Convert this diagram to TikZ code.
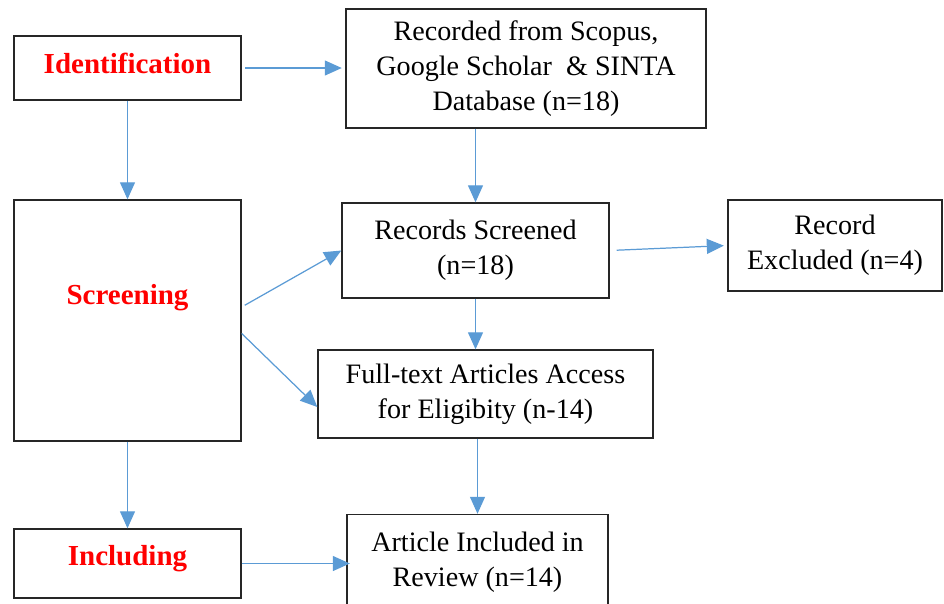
\documentclass[tikz,border=0pt]{standalone}
\usepackage{fontspec}
\setmainfont{Liberation Serif}
\usetikzlibrary{arrows.meta,calc}
\definecolor{arrowblue}{RGB}{91,155,213}
\definecolor{stagered}{RGB}{255,0,0}
\begin{document}
\begin{tikzpicture}[
  box/.style={draw=black!85,line width=0.8pt,align=center,inner sep=2pt,
    font=\fontsize{16}{20}\selectfont},
  stage/.style={box,text=stagered,font=\fontsize{16.5}{20}\selectfont\bfseries},
  flow/.style={draw=arrowblue,line width=0.7pt,-{Triangle[length=3.4mm,width=3mm]}}]
  \useasboundingbox (0,0) rectangle (18.88,-12.06);
  \node[stage,minimum width=4.54cm,minimum height=1.28cm,text depth=0.2cm] (ident) at (2.55,-1.36) {Identification};
  \node[stage,minimum width=4.54cm,minimum height=4.82cm,text depth=1.04cm] (screen) at (2.55,-6.41) {Screening};
  \node[stage,minimum width=4.54cm,minimum height=1.38cm,text depth=0.32cm] (incl) at (2.55,-11.27) {Including};
  \node[box,minimum width=7.2cm,minimum height=2.38cm] (recorded) at (10.52,-1.37)
    {Recorded from Scopus,\\ Google Scholar \ \& SINTA\\ Database (n=18)};
  \node[box,minimum width=5.34cm,minimum height=1.9cm] (screened) at (9.51,-5.01)
    {Records Screened\\ (n=18)};
  \node[box,minimum width=4.28cm,minimum height=1.82cm] (excluded) at (16.7,-4.91)
    {Record\\ Excluded (n=4)};
  \node[box,minimum width=6.7cm,minimum height=1.76cm] (fulltext) at (9.71,-7.88)
    {Full-text Articles Access\\ for Eligibity (n-14)};
  \node[box,minimum width=5.22cm,minimum height=1.9cm] (article) at (9.55,-11.24)
    {Article Included in\\ Review (n=14)};

  \draw[flow,shorten <=2pt,shorten >=2pt] (ident.east) -- (ident.east -| recorded.west);
  \draw[flow] (ident.south) -- (screen.north);
  \draw[flow] (screened.north |- recorded.south) -- (screened.north);
  \draw[flow,shorten <=2pt] ($(screen.east)+(0,0.27)$) -- (screened.west);
  \draw[flow] ($(screen.east)+(0,-0.26)$) -- ($(fulltext.west)+(0,-0.26)$);
  \draw[flow,shorten <=4pt,shorten >=2pt] (screened.east) -- (excluded.west);
  \draw[flow] (screened.south) -- (screened.south |- fulltext.north);
  \draw[flow] (screen.south) -- (incl.north);
  \draw[flow] (article.north |- fulltext.south) -- (article.north);
  \draw[flow,shorten >=-2pt] (incl.east) -- (incl.east -| article.west);
\end{tikzpicture}
\end{document}
